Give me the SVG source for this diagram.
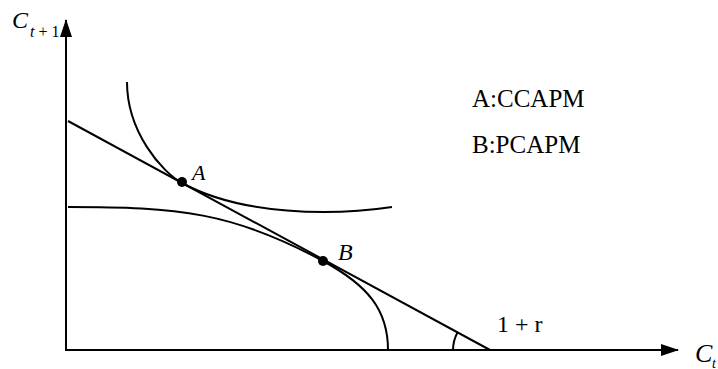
<svg xmlns="http://www.w3.org/2000/svg" width="718" height="369" viewBox="0 0 718 369">
<style>
.ln{fill:none;stroke:#000;stroke-width:2}
.tx{font-family:"Liberation Serif","Times New Roman",serif;fill:#000}
.it{font-style:italic}
</style>
<defs>
<marker id="ah" markerWidth="18" markerHeight="12" refX="17" refY="6" orient="auto" markerUnits="userSpaceOnUse">
<path d="M0,0 L18,6 L0,12 Z" fill="#000"/>
</marker>
</defs>
<rect width="718" height="369" fill="#fff"/>
<g id="connectors">
<line id="y-axis" class="ln" x1="66" y1="351" x2="66" y2="20" marker-end="url(#ah)"/>
<line id="x-axis" class="ln" x1="65" y1="350" x2="678" y2="350" marker-end="url(#ah)"/>
<line id="budget" class="ln" x1="68" y1="121" x2="490" y2="350"/>
<path id="indiff" class="ln" d="M127,82 C127,132 162,172 182,183 C242,215.6 332,216 392,207"/>
<path id="ppf" class="ln" d="M68,207 C178,207 233,212 323,261 C368,285.4 388,310 388,350"/>
<path id="angle" class="ln" d="M453,350 A37,37 0 0 1 457.5,332.4"/>
</g>
<g id="point-A">
<circle cx="182" cy="182" r="5"/>
<text class="tx it" x="192" y="180" font-size="22">A</text>
</g>
<g id="point-B">
<circle cx="323" cy="261" r="5"/>
<text class="tx it" x="338" y="260" font-size="24">B</text>
</g>
<g id="label-y">
<text class="tx" x="12" y="28" font-size="24"><tspan class="it">C</tspan><tspan x="30" y="37" font-size="16"><tspan class="it">t</tspan> + 1</tspan></text>
</g>
<g id="label-x">
<text class="tx" x="695" y="362" font-size="26"><tspan class="it">C</tspan><tspan x="712" y="368" font-size="14" class="it">t</tspan></text>
</g>
<g id="legend">
<text class="tx" x="472" y="107" font-size="25">A:CCAPM</text>
<text class="tx" x="472" y="153" font-size="25">B:PCAPM</text>
</g>
<g id="angle-label">
<text class="tx" x="497" y="332" font-size="24">1 + r</text>
</g>
</svg>
